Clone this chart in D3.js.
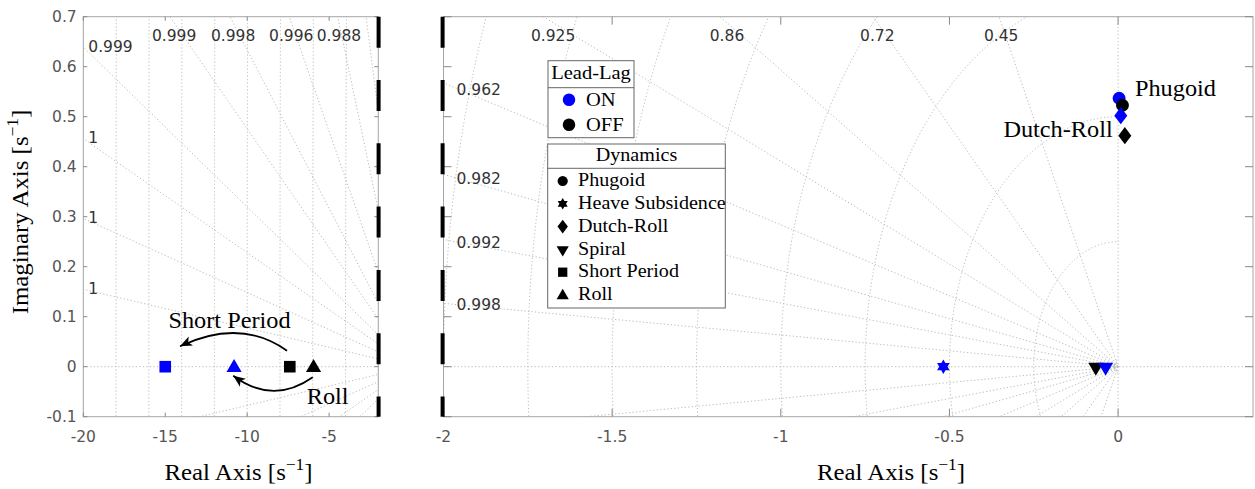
<!DOCTYPE html>
<html><head><meta charset="utf-8">
<script src="https://cdn.jsdelivr.net/npm/d3@7"></script>
<style>body{margin:0;background:#fff}svg{display:block}</style>
</head><body><svg id="chart" width="1255" height="489"></svg>
<script>
// ---------------- data ----------------
const dynamics   = ["Phugoid","Heave Subsidence","Dutch-Roll","Spiral","Short Period","Roll"];
const dynSymbols = ["circle","hexagram","diamond","triangleDown","square","triangleUp"];
const leadLag    = ["ON","OFF"];
const onReal  = [0.003, -0.518, 0.008, -0.037, -15.0, -10.8];
const onImag  = [0.537,  0,     0.502,  0,      0,     0];
const offReal = [0.013,  null,  0.020, -0.066, -7.4,  -5.95];
const offImag = [0.523,  null,  0.462,  0,      0,     0];

const leftXTicks  = [-20,-15,-10,-5];
const rightXTicks = [-2,-1.5,-1,-0.5,0];
const yTicks      = [-0.1,0,0.1,0.2,0.3,0.4,0.5,0.6,0.7];
const yTickLabels = ["-0.1","0","0.1","0.2","0.3","0.4","0.5","0.6","0.7"];

const leftZeta        = [0.99997,0.99989,0.99974,0.99949,0.99887,0.998,0.9956,0.988,0.969];
const leftZetaLabels  = ["1","1","1","0.999","0.999","0.998","0.996","0.988",""];
const rightZeta       = [0.998,0.992,0.982,0.962,0.925,0.86,0.72,0.45];
const rightZetaLabels = ["0.998","0.992","0.982","0.962","0.925","0.86","0.72","0.45"];
const leftWn  = [2,4,6,8,10,12,14,16,18,20];
const rightWn = [0.0075,0.0125,0.25,0.5,0.75,1,1.25,1.5,1.75,2];

// annotations (data coordinates)
const annoText  = ["Short Period","Roll","Phugoid","Dutch-Roll"];
const annoX     = [-11.08,-6.37,0.05,-0.016];
const annoY     = [0.0774,-0.0746,0.542,0.4588];
const annoPanel = ["L","L","R","R"];
const annoAnchor= ["middle","start","start","end"];
// curved arrows (start, control, end) in data coordinates
const arrowStart = [[-7.57,0.032],[-6.0,-0.021]];
const arrowCtrl  = [[-10.4,0.098],[-8.43,-0.077]];
const arrowEnd   = [[-14.1,0.041],[-10.85,-0.018]];

// ---------------- layout ----------------
const svg = d3.select("#chart");
const T = 16.7, B = 416.7;
const SERIF = "'Liberation Serif','Times New Roman',serif";
const SANS  = "'DejaVu Sans',sans-serif";
const SX = 1.08; // horizontal stretch to mimic Computer Modern widths
const BLUE = "#0000ff";
const yS = d3.scaleLinear().domain([-0.1,0.7]).range([B,T]);
const xL = d3.scaleLinear().domain([-20,-2]).range([83.3,378.3]);
const xR = d3.scaleLinear().domain([-2,0.4]).range([443.5,1253]);

const panels = [
  {id:"L", x:xL, wn:leftWn, zeta:leftZeta, zl:leftZetaLabels, ticks:leftXTicks, tl:4,
   edgeDx:5, probe:0, edgeDy:-1},
  {id:"R", x:xR, wn:rightWn, zeta:rightZeta, zl:rightZetaLabels, ticks:rightXTicks, tl:8,
   edgeDx:13, probe:15, edgeDy:0}
];

const defs = svg.append("defs");
defs.append("marker").attr("id","ah").attr("viewBox","-14 -7 16 14")
  .attr("markerWidth",16).attr("markerHeight",14).attr("markerUnits","userSpaceOnUse")
  .attr("refX",0).attr("refY",0).attr("orient","auto")
  .append("path").attr("d","M0,0L-12,-5L-9,0L-12,5Z").attr("fill","#000");

function serif(parent, x, y, str, size, anchor, rotate, sup){
  const g = parent.append("g").attr("transform",`translate(${x},${y})${rotate?` rotate(${rotate})`:""} scale(${SX},1)`);
  const t = g.append("text").attr("text-anchor",anchor||"start")
    .style("font-family",SERIF).style("font-size",size+"px").attr("fill","#000");
  if (sup){
    t.append("tspan").text(str);
    t.append("tspan").attr("dy",-size*0.42).style("font-size",(size*0.7)+"px").text(sup);
    t.append("tspan").attr("dy",size*0.42).text("]");
  } else t.text(str);
  return t;
}

function symPath(type,k){
  k = k||1;
  switch(type){
    case "circle": { const r=6.4*k; return `M${r},0A${r},${r} 0 1,1 ${-r},0A${r},${r} 0 1,1 ${r},0Z`; }
    case "square": { const a=5.8*k; return `M${-a},${-a}H${a}V${a}H${-a}Z`; }
    case "triangleUp": { const w=7.6*k; return `M0,${-7.8*k}L${w},${5.2*k}L${-w},${5.2*k}Z`; }
    case "triangleDown": { const w=7.6*k; return `M0,${9*k}L${w},${-4*k}L${-w},${-4*k}Z`; }
    case "diamond": { const w=6.5*k,h=8.6*k; return `M0,${-h}L${w},0L0,${h}L${-w},0Z`; }
    case "hexagram": {
      const R=7.2*k; const p=a=>[R*Math.cos(a*Math.PI/180),R*Math.sin(a*Math.PI/180)];
      const t1=[-90,30,150].map(p), t2=[90,210,330].map(p);
      const s=tt=>"M"+tt.map(q=>q[0].toFixed(2)+","+q[1].toFixed(2)).join("L")+"Z";
      return s(t1)+s(t2);
    }
  }
}

const line = x => d3.line().x(d=>x(d[0])).y(d=>yS(d[1]));

panels.forEach(P=>{
  const x = P.x, [x0,x1] = x.range(), [d0,d1] = x.domain();
  defs.append("clipPath").attr("id","clip"+P.id).append("rect")
    .attr("x",x0).attr("y",T).attr("width",x1-x0).attr("height",B-T);
  const g = svg.append("g").attr("clip-path",`url(#clip${P.id})`)
    .attr("fill","none").attr("stroke","#bdbdbd").attr("stroke-width",1).attr("stroke-dasharray","1.3,2.2");
  // natural-frequency semicircles
  P.wn.forEach(w=>{
    const a0 = Math.asin(Math.max(-1,-0.12/w)), a1 = Math.asin(Math.min(1,0.72/w));
    const pts = d3.range(0,301).map(i=>{const a=a0+(a1-a0)*i/300; return [-w*Math.cos(a), w*Math.sin(a)];});
    g.append("path").attr("d",line(x)(pts));
  });
  // damping lines
  P.zeta.forEach(z=>{
    const t = Math.tan(Math.acos(z));
    g.append("path").attr("d",line(x)([[0,0],[-60,60*t]]));
    g.append("path").attr("d",line(x)([[0,0],[-60,-60*t]]));
  });
  // real / imaginary axes
  g.append("path").attr("d",line(x)([[d0,0],[d1,0]]));
  if (d0<0 && d1>0) g.append("path").attr("d",line(x)([[0,-0.1],[0,0.7]]));

  // damping labels
  P.zeta.forEach((z,i)=>{
    if(!P.zl[i]) return;
    const t = Math.tan(Math.acos(z));
    let px, py, anchor;
    if (-d0*t <= 0.7){
      px = x0 + P.edgeDx; anchor="start";
      const xp = x.invert(x0 + P.probe);
      py = yS(-xp*t) + P.edgeDy;
    } else {
      const yd = yS.invert(T+6);
      px = x(-yd/t); py = 35; anchor="middle";
    }
    svg.append("text").attr("x",px).attr("y",py).attr("dy","0.36em").attr("text-anchor",anchor)
      .style("font-family",SANS).style("font-size","15.5px").attr("fill","#333").text(P.zl[i]);
  });

  // box
  svg.append("rect").attr("x",x0).attr("y",T).attr("width",x1-x0).attr("height",B-T)
    .attr("fill","none").attr("stroke","#a6a6a6").attr("stroke-width",1);
  // ticks
  const tk = svg.append("g").attr("stroke","#888").attr("stroke-width",1);
  P.ticks.forEach(v=>{
    tk.append("line").attr("x1",x(v)).attr("x2",x(v)).attr("y1",B).attr("y2",B-P.tl);
    tk.append("line").attr("x1",x(v)).attr("x2",x(v)).attr("y1",T).attr("y2",T+P.tl);
    svg.append("text").attr("x",x(v)).attr("y",442).attr("text-anchor","middle")
      .style("font-family",SANS).style("font-size","15.5px").attr("fill","#555").text(String(v));
  });
  yTicks.forEach((v,i)=>{
    tk.append("line").attr("x1",x0).attr("x2",x0+P.tl).attr("y1",yS(v)).attr("y2",yS(v));
    tk.append("line").attr("x1",x1).attr("x2",x1-P.tl).attr("y1",yS(v)).attr("y2",yS(v));
    if (P.id==="L")
      svg.append("text").attr("x",76.7).attr("y",yS(v)).attr("dy","0.36em").attr("text-anchor","end")
        .style("font-family",SANS).style("font-size","15.5px").attr("fill","#555").text(yTickLabels[i]);
  });
});

// ---------------- annotations ----------------
arrowStart.forEach((s,i)=>{
  const c=arrowCtrl[i], e=arrowEnd[i];
  const p=d3.path(); p.moveTo(xL(s[0]),yS(s[1])); p.quadraticCurveTo(xL(c[0]),yS(c[1]),xL(e[0]),yS(e[1]));
  svg.append("path").attr("d",p.toString()).attr("fill","none").attr("stroke","#000")
    .attr("stroke-width",1.8).attr("marker-end","url(#ah)");
});
annoText.forEach((s,i)=>{
  const x = annoPanel[i]==="L"?xL:xR;
  serif(svg, x(annoX[i]), yS(annoY[i]), s, 22.5, annoAnchor[i]);
});

// ---------------- markers ----------------
const mk = svg.append("g");
dynamics.forEach((d,i)=>{
  const pts = [{r:onReal[i],im:onImag[i],c:BLUE},{r:offReal[i],im:offImag[i],c:"#000"}];
  if (d==="Spiral") pts.reverse();
  pts.forEach(p=>{
    if (p.r===null) return;
    const x = p.r < -2 ? xL : xR;
    mk.append("path").attr("d",symPath(dynSymbols[i]))
      .attr("transform",`translate(${x(p.r)},${yS(p.im)})`).attr("fill",p.c);
  });
});

// ---------------- break marks ----------------
[378.6, 442.6].forEach(xx=>{
  svg.append("line").attr("x1",xx).attr("x2",xx).attr("y1",T).attr("y2",B)
    .attr("stroke","#000").attr("stroke-width",4).attr("stroke-dasharray","31,32.3");
});

// ---------------- legends ----------------
const lg = svg.append("g");
// Lead-Lag
lg.append("rect").attr("x",548).attr("y",60.7).attr("width",86).attr("height",77)
  .attr("fill","#fff").attr("stroke","#666");
lg.append("line").attr("x1",548).attr("x2",634).attr("y1",87.7).attr("y2",87.7).attr("stroke","#666");
serif(lg, 591, 79.3, "Lead-Lag", 19, "middle");
leadLag.forEach((s,i)=>{
  lg.append("path").attr("d",symPath("circle",0.98)).attr("transform",`translate(569,${99.7+i*25})`)
    .attr("fill", i===0?BLUE:"#000");
  serif(lg, 586, 106+i*24.5, s, 19, "start");
});
// Dynamics
lg.append("rect").attr("x",547.7).attr("y",144).attr("width",177.6).attr("height",164)
  .attr("fill","#fff").attr("stroke","#666");
lg.append("line").attr("x1",547.7).attr("x2",725.3).attr("y1",168.3).attr("y2",168.3).attr("stroke","#666");
serif(lg, 636.5, 161, "Dynamics", 18.6, "middle");
dynamics.forEach((d,i)=>{
  const yc = 181 + i*22.8;
  lg.append("path").attr("d",symPath(dynSymbols[i],0.8)).attr("transform",`translate(562.7,${yc})`).attr("fill","#000");
  serif(lg, 578, 186 + i*22.85, d, 18.6, "start");
});

// ---------------- axis titles ----------------
serif(svg, 238.5, 480, "Real Axis [s", 23, "middle", 0, "\u22121");
serif(svg, 891, 480, "Real Axis [s", 23, "middle", 0, "\u22121");
serif(svg, 28, 212, "Imaginary Axis [s", 23, "middle", -90, "\u22121");
</script></body></html>
